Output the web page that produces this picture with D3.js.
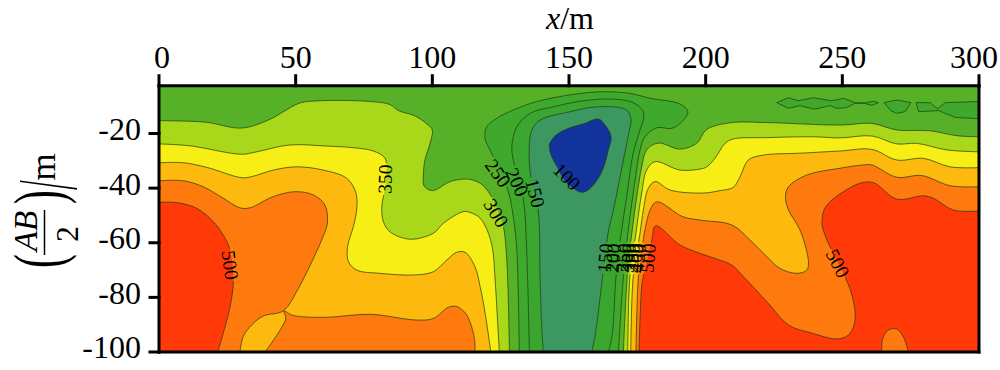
<!DOCTYPE html>
<html>
<head>
<meta charset="utf-8">
<script src="https://cdn.jsdelivr.net/npm/d3@7"></script>
<style>
  html, body { margin: 0; padding: 0; background: #fff; }
  svg text { font-family: "Liberation Serif", serif; fill: #000; }
</style>
</head>
<body>
<svg id="chart" width="1000" height="370"></svg>
<script>
// tick labels
var x_ticks = [0, 50, 100, 150, 200, 250, 300];
var y_ticks = [-20, -40, -60, -80, -100];

// contour lines, each point is [x in m, AB/2 in m]
var low_250 = [[131.8,-100],[130.9,-62.7],[129.6,-50.5],[127.8,-41.3],[122.9,-29.7],[121.1,-26],[119.3,-21.8],[119.9,-17.5],[123.6,-14.4],[129.6,-11.4],[138.2,-8.3],[152.8,-5.5],[162.6,-4.7],[172.3,-5.3],[179.7,-7.1],[190.6,-9.2],[193.5,-12],[191.3,-15.7],[187.6,-18.1],[182.1,-17.9],[177.8,-21.2],[176,-26],[174.2,-37],[171.7,-55.3],[169.9,-72.4],[168.1,-100]];
var low_200 = [[135.5,-100],[134.5,-62.7],[133.3,-44.4],[129.6,-29.7],[129.1,-24.8],[130.9,-17.5],[135.8,-12.6],[144.3,-10.2],[155.3,-8],[166.2,-7.4],[173.5,-8.7],[177.2,-12],[177,-15.7],[176,-18.7],[173.5,-27.2],[171.1,-43.1],[168.9,-57.8],[167.2,-72.4],[165.8,-93.8],[164.4,-100]];
var low_150 = [[140.6,-100],[140,-90.7],[139.4,-72.4],[138.8,-49.1],[135.7,-33.4],[135.5,-24.8],[136.4,-18.7],[139.4,-15.1],[150.4,-12],[160.7,-10.2],[171.1,-11.4],[172.7,-15.1],[172.1,-18.7],[169.9,-29.7],[166.5,-46.8],[164.3,-56.4],[162.3,-72.4],[159.5,-94.4],[158.3,-100]];
var low_100 = [[142.8,-23.9],[144.9,-20.9],[149.8,-18.1],[155.2,-16.5],[160.7,-14.7],[163.2,-16.9],[165.4,-21.2],[164.4,-26],[162,-34],[157.7,-40.1],[154.7,-41.5],[149.2,-38.2],[144.9,-30.9],[143.1,-26.7]];

// small patches under 250 near the surface on the right
var patch_a = [[226,-8.7],[230.3,-6.9],[233.9,-8],[239.4,-6.9],[246.1,-8],[250.4,-7.1],[254.7,-8.7],[258.3,-8.8],[261.4,-8.2],[263.2,-8.7],[260.8,-9.7],[258.3,-9],[254.7,-8.9],[251.6,-10.5],[248,-10.8],[245.5,-9.8],[239.8,-11.1],[234.5,-9.8],[230.3,-10.8]];
var patch_b = [[265.3,-8.7],[269.9,-7.7],[275.1,-8.7],[273,-12],[269.9,-12.6],[267.7,-11.6]];
var patch_c = [[277,-8.7],[282.1,-8.7],[284.9,-11],[287.6,-8.7],[300,-8.3],[300,-14.6],[291.3,-14.1],[285.2,-11.6],[277.9,-12]];

var left_300 = [[0,-15.3],[7.7,-15.4],[17.5,-15.9],[30.3,-18],[40.6,-14.8],[45.5,-12],[51.6,-8.8],[58.9,-8],[76,-8.2],[84.5,-9.4],[87.6,-11.6],[93.7,-13.6],[98.5,-16.9],[100,-18.7],[99.2,-23.5],[97.3,-29.7],[96.7,-35.8],[97,-39.2],[100.1,-40.9],[106.5,-37.6],[111.3,-36.7],[113.8,-36.8],[117.5,-38.2],[120.5,-41.3],[123.7,-47.3],[126,-54.1],[127,-62.7],[127.7,-77.3],[128.2,-100]];
var left_350 = [[0,-23.8],[11.3,-24.5],[30.3,-27.6],[35.7,-26.7],[47.9,-24.2],[61.4,-24.6],[71.1,-25.2],[78.4,-26.4],[82.7,-29.1],[83.1,-37],[82.1,-43.1],[81.5,-46.8],[82.1,-52.3],[84.5,-56],[91.8,-58.7],[100.4,-56.5],[104,-52.9],[111.3,-48.6],[113.8,-48.9],[117.5,-51],[120.5,-56.5],[122.1,-62.7],[122.9,-72.4],[124.5,-100]];
var left_400 = [[0,-30.7],[8.9,-30.7],[17.5,-32.4],[30.3,-36.2],[33.9,-35.8],[41.8,-33.4],[50.4,-32.2],[60.1,-33.4],[68.7,-36.4],[72.1,-41.9],[72.3,-48],[71.1,-54.1],[69,-61.4],[69.3,-66.9],[72.3,-70],[80.9,-71.2],[93,-71.8],[100.4,-70.6],[105.3,-66.3],[108.9,-63.5],[112,-63.5],[115.6,-68.8],[117.5,-76.1],[119.3,-85.7],[121.4,-100]];
var left_450_a = [[0,-37.3],[8.9,-37.3],[16.2,-39.5],[23.5,-43.7],[29.6,-47.2],[33.3,-47.2],[41.8,-43.1],[49.8,-41.3],[56.5,-42.5],[60.7,-46.2],[61.6,-52.9],[59.5,-59],[55.3,-68.2],[51,-76.7],[45.5,-84.9],[38.2,-86.8],[33.9,-90.1],[30.8,-94.4],[29.6,-100]];
var left_450_b = [[38.8,-100],[46.4,-87.7],[45.7,-85],[49.1,-86.6],[60.7,-87.3],[77.2,-86.2],[94.3,-88.3],[100.4,-87.7],[105.9,-83.6],[109.1,-83.4],[112.6,-86.5],[115.4,-95],[115.6,-100]];
var left_500 = [[0,-45.2],[6.5,-45.3],[13.8,-47.4],[19.9,-52.3],[23.5,-57.2],[26,-62.7],[27.2,-73.6],[26,-83.4],[21.5,-100]];

var right_300 = [[169.9,-100],[171.3,-72.4],[173,-56.4],[174.8,-43.1],[176.6,-32.2],[178.4,-26],[182.6,-23.5],[190.6,-25.7],[196.7,-23.6],[200.4,-18.5],[209.6,-16],[222.4,-16],[249.2,-16.9],[260.8,-16.3],[269.9,-18.7],[282.1,-19],[291.9,-20.8],[300,-21.2]];
var right_350 = [[171.5,-100],[172.3,-72.4],[174.5,-56.4],[176.6,-41.8],[178.4,-33.4],[181.5,-30.3],[190.6,-33.4],[198,-33],[200.4,-32.2],[203.4,-29.1],[207.1,-23.6],[210.1,-22],[222.4,-21.5],[239.4,-21.2],[249.2,-21.6],[260.8,-20.9],[269.9,-23.8],[277.2,-23.6],[288.2,-26],[300,-26.7]];
var right_400 = [[172.6,-100],[173.5,-72.4],[176,-56.4],[177.2,-48],[179,-40.1],[181.5,-37.6],[187,-40.7],[199.1,-41.8],[205.3,-40.9],[210.1,-39.7],[212.6,-35.8],[215.6,-29.7],[221.1,-27.9],[234.5,-27.2],[249.2,-26.4],[260.8,-25.8],[269.9,-29.7],[279.7,-29.1],[289.4,-32.2],[300,-32.5]];
var right_450 = [[174.5,-100],[175.4,-72.4],[177,-60.1],[177.8,-55.3],[179.7,-48],[182.1,-45],[191.7,-50.5],[198,-51.7],[209.6,-53.5],[216.2,-59],[222.4,-65.1],[227.2,-69.4],[233.3,-71.2],[237,-70],[237.6,-66.9],[234.5,-55.3],[230.3,-48],[229.2,-43.1],[230.3,-39.5],[237,-35.2],[249.2,-32.7],[257.7,-31.5],[260.8,-31.5],[269.9,-36],[279.1,-35.4],[289.4,-39.1],[300,-39.5]];
var right_500 = [[175.6,-100],[176.6,-76.1],[177.2,-72.4],[180.3,-59],[181.7,-53.8],[190.6,-60.8],[198,-63.9],[204.1,-66],[209.6,-68.2],[213.8,-72.4],[222.4,-81.6],[230.3,-90.1],[238.2,-92.9],[248.6,-95.2],[252.8,-93.2],[254.7,-87.7],[253.5,-79.1],[250.4,-71.2],[244.9,-60.2],[242.7,-54.1],[242.6,-51.7],[243.3,-48],[245.5,-45],[250.4,-41.3],[256.5,-38.2],[261.4,-38],[269.9,-44],[279.7,-42.8],[283.3,-43.7],[290.6,-48],[300,-48.4]];
var right_hole = [[264.4,-100],[264.8,-94.9],[266.9,-91.9],[269.9,-91.6],[272.3,-94.4],[274.2,-100]];

// the numbers written on the contours
var label_text = ['100', '150', '200', '250', '300', '350', '500', '500', '150', '200', '250', '300', '350', '400', '450', '500'];
var label_x = [149.2, 137.6, 131, 124, 123.3, 82.7, 26, 248.3, 163.2, 166.1, 169.8, 171.6, 173, 174.2, 175.3, 178.9];
var label_y = [-35.8, -41.8, -37.8, -34.5, -49.1, -36.7, -68.2, -67.5, -65.6, -65.6, -65.6, -65.6, -65.6, -65.6, -65.6, -65.6];

var label_angle = [45, 75, 65, 55, 58, -88, 82, 62, -85, -85, -85, -85, -85, -85, -85, -85]; // degrees

var col_blue = '#11339b';
var col_teal = '#3c9860';
var col_green_150 = '#3aa62f';
var col_green_200 = '#3ea92c';
var col_green_250 = '#56b128';
var col_lime = '#a9d81b';
var col_yellow = '#f6ee14';
var col_amber = '#fdb90e';
var col_orange = '#fe7a0e';
var col_red = '#ff3908';

var top_depth = -2.5; // top of the plotted area

var svg = d3.select('#chart');

var x_scale = d3.scaleLinear().domain([0, 300]).range([159, 979]);
var y_scale = d3.scaleLinear().domain([0, -100]).range([78.9, 352]);

var plot_top = y_scale(top_depth);
var plot_bottom = y_scale(-100);

var smooth = d3.line()
    .x(function(d) { return x_scale(d[0]); })
    .y(function(d) { return y_scale(d[1]); })
    .curve(d3.curveCatmullRom.alpha(0.5));

var straight = d3.line()
    .x(function(d) { return x_scale(d[0]); })
    .y(function(d) { return y_scale(d[1]); });

svg.append('clipPath')
    .attr('id', 'plot-clip')
    .append('rect')
    .attr('x', x_scale(0))
    .attr('y', plot_top)
    .attr('width', x_scale(300) - x_scale(0))
    .attr('height', plot_bottom - plot_top);

// blank out contour strokes where a number sits on them
var mask = svg.append('mask')
    .attr('id', 'label-gaps')
    .attr('maskUnits', 'userSpaceOnUse')
    .attr('x', 0).attr('y', 0).attr('width', 1000).attr('height', 370);

mask.append('rect').attr('width', 1000).attr('height', 370).attr('fill', '#fff');

label_text.forEach(function(t, i) {
    mask.append('rect')
        .attr('x', -16).attr('y', -6).attr('width', 32).attr('height', 12)
        .attr('fill', '#000')
        .attr('transform', 'translate(' + x_scale(label_x[i]) + ',' + y_scale(label_y[i]) + ') rotate(' + label_angle[i] + ')');
});

var plot = svg.append('g').attr('clip-path', 'url(#plot-clip)');

plot.append('rect')
    .attr('x', x_scale(0))
    .attr('y', plot_top)
    .attr('width', x_scale(300) - x_scale(0))
    .attr('height', plot_bottom - plot_top)
    .attr('fill', col_green_250);

var strokes = [];

// fill = contour line closed along the given frame corners
function addRegion(points, color, corners) {
    var d = smooth(points);
    (corners || []).forEach(function(c) {
        d += 'L' + x_scale(c[0]) + ',' + y_scale(c[1]);
    });
    plot.append('path').attr('d', d + 'Z').attr('fill', color);
    strokes.push(smooth(points));
}

function addPatch(points, color) {
    var d = straight(points) + 'Z';
    plot.append('path').attr('d', d).attr('fill', color);
    strokes.push(d);
}

var left_corner = [[0, -100]];
var right_corner = [[300, -100]];

addRegion(low_250, col_green_200);
addPatch(patch_a, col_green_200);
addPatch(patch_b, col_green_200);
addPatch(patch_c, col_green_200);
addRegion(low_200, col_green_150);
addRegion(low_150, col_teal);
addRegion(low_100.concat([low_100[0]]), col_blue);

addRegion(left_300, col_lime, left_corner);
addRegion(left_350, col_yellow, left_corner);
addRegion(left_400, col_amber, left_corner);
addRegion(left_450_a, col_orange, left_corner);
addRegion(left_450_b, col_orange);
addRegion(left_500, col_red, left_corner);

addRegion(right_300, col_lime, right_corner);
addRegion(right_350, col_yellow, right_corner);
addRegion(right_400, col_amber, right_corner);
addRegion(right_450, col_orange, right_corner);
addRegion(right_500, col_red, right_corner);
addRegion(right_hole, col_orange);

plot.append('g')
    .attr('mask', 'url(#label-gaps)')
    .selectAll('path')
    .data(strokes)
    .join('path')
    .attr('d', function(d) { return d; })
    .attr('fill', 'none')
    .attr('stroke', '#1f3a10')
    .attr('stroke-opacity', 0.7)
    .attr('stroke-width', 1);

svg.append('g')
    .selectAll('text')
    .data(label_text)
    .join('text')
    .attr('text-anchor', 'middle')
    .attr('dy', '0.34em')
    .attr('font-size', 19.5)
    .attr('transform', function(d, i) {
        return 'translate(' + x_scale(label_x[i]) + ',' + y_scale(label_y[i]) + ') rotate(' + label_angle[i] + ')';
    })
    .text(function(d) { return d; });

// axes
var y_frame = d3.scaleLinear().domain([top_depth, -100]).range([plot_top, plot_bottom]);

var x_axis = d3.axisTop(x_scale)
    .tickValues(x_ticks)
    .tickSize(10)
    .tickSizeOuter(0)
    .tickPadding(8)
    .offset(0);

var y_axis = d3.axisLeft(y_frame)
    .tickValues(y_ticks)
    .tickFormat(function(d) { return String(d); }) // plain hyphen as in the figure
    .tickSize(9)
    .tickSizeOuter(0)
    .tickPadding(9)
    .offset(0);

var x_g = svg.append('g')
    .attr('transform', 'translate(0,' + plot_top + ')')
    .call(x_axis);

var y_g = svg.append('g')
    .attr('transform', 'translate(' + x_scale(0) + ',0)')
    .call(y_axis);

svg.append('g')
    .attr('transform', 'translate(0,' + plot_bottom + ')')
    .call(d3.axisBottom(x_scale).tickValues([]).tickSizeOuter(0).offset(0));

svg.append('g')
    .attr('transform', 'translate(' + x_scale(300) + ',0)')
    .call(d3.axisRight(y_frame).tickValues([]).tickSizeOuter(0).offset(0));

svg.selectAll('.domain, .tick line')
    .attr('stroke', '#000')
    .attr('stroke-width', 3)
    .attr('stroke-linecap', 'square');

svg.selectAll('.tick text')
    .attr('font-size', 32)
    .attr('font-family', '"Liberation Serif", serif')
    .attr('fill', '#000');

y_g.selectAll('.tick text').attr('dy', '0.2em');

// first and last labels sit slightly inward, the last one stays inside the page
x_g.selectAll('.tick text')
    .filter(function(d) { return d === 300; })
    .attr('dx', -5);
x_g.selectAll('.tick text')
    .filter(function(d) { return d === 0; })
    .attr('dx', 3);

// axis titles
var x_title = svg.append('text')
    .attr('x', 570)
    .attr('y', 29)
    .attr('text-anchor', 'middle')
    .attr('font-size', 32);
x_title.append('tspan').attr('font-style', 'italic').text('x');
x_title.append('tspan').text('/m');

function yTitlePart(str, base, pos, size, stretch, italic) {
    svg.append('text')
        .attr('text-anchor', 'middle')
        .attr('font-size', size)
        .attr('font-style', italic ? 'italic' : 'normal')
        .attr('transform', 'translate(' + base + ',' + pos + ') rotate(-90) scale(' + stretch + ',1)')
        .text(str);
}

yTitlePart('(', 62, 261, 69, 0.6);
yTitlePart('AB', 37, 231, 33, 1, true);
yTitlePart('2', 78, 234, 32, 1);
yTitlePart(')', 62, 197, 69, 0.6);
yTitlePart('/', 76, 185, 84, 0.4);
yTitlePart('m', 55, 167, 35, 1);

svg.append('line')
    .attr('x1', 44.5).attr('x2', 44.5)
    .attr('y1', 210).attr('y2', 255)
    .attr('stroke', '#000')
    .attr('stroke-width', 1.5);
</script>
</body>
</html>
